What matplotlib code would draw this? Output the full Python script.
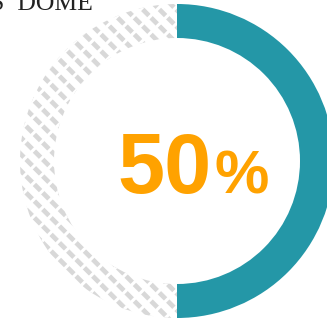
import matplotlib
matplotlib.use('Agg')
import matplotlib.pyplot as plt

values = [50, 50]
colors = ['#2497a7', 'white']
center_label = '50'
title_text = 'S  DOME'

fig = plt.figure(figsize=(3.27, 3.2), dpi=100)
ax = fig.add_axes([0, 0, 1, 1])

ring = dict(startangle=90, counterclock=False, center=(177, 161), radius=157)

# grey diagonal stripes on the empty half
with plt.rc_context({'hatch.linewidth': 3.4, 'hatch.color': '#d8d8d8'}):
    wedges, _ = ax.pie(values, colors=colors, wedgeprops=dict(width=34, linewidth=0), **ring)
    wedges[1].set_hatch('\\\\')
    wedges[1].set_edgecolor('#d8d8d8')

# thin white cross lines break the stripes into a checker look
with plt.rc_context({'hatch.linewidth': 2.2, 'hatch.color': 'white'}):
    over, _ = ax.pie(values, colors=['none', 'none'], wedgeprops=dict(width=34, linewidth=0), **ring)
    over[0].set_visible(False)
    over[1].set_hatch('//')
    over[1].set_edgecolor('white')

ax.set_xlim(0, 327)
ax.set_ylim(320, 0)
ax.set_aspect('equal')
ax.axis('off')

ax.text(212, 193, center_label, color='#ffa200', fontsize=61, fontweight='bold',
        family='Liberation Sans', ha='right', va='baseline')
ax.text(215, 193, '%', color='#ffa200', fontsize=44, fontweight='bold',
        family='Liberation Sans', ha='left', va='baseline')
ax.text(93, 10, title_text, color='#222222', fontsize=18.5, family='Liberation Serif',
        ha='right', va='baseline')

fig.savefig('out.png', dpi=100)
